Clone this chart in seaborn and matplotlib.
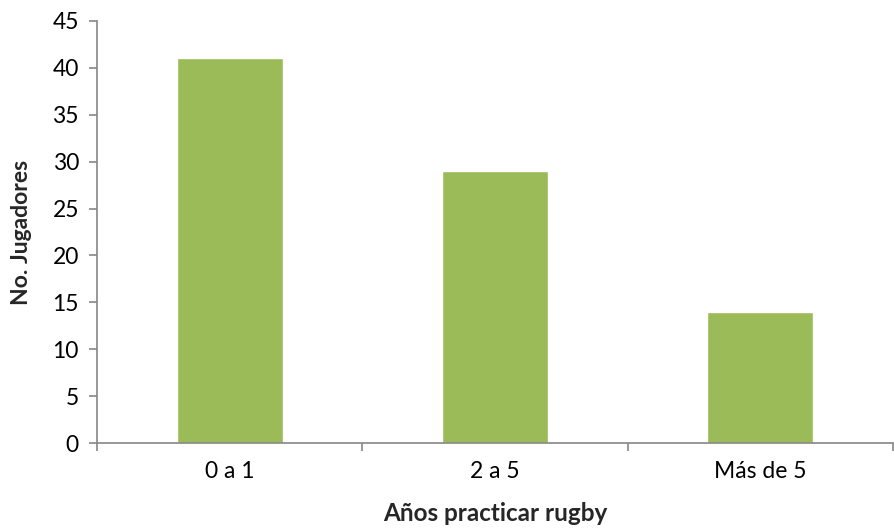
import matplotlib
matplotlib.use("Agg")
import matplotlib.pyplot as plt
from matplotlib.ticker import FixedLocator
import seaborn as sns
import pandas as pd

categories = ["0 a 1", "2 a 5", "Más de 5"]
jugadores = [41, 29, 14]
y_ticks = [0, 5, 10, 15, 20, 25, 30, 35, 40, 45]

df = pd.DataFrame({"categoria": categories, "jugadores": jugadores})

sns.set_theme(style="white")
plt.rcParams["font.family"] = ["Lato", "DejaVu Sans"]

axis_color = "#868686"
bar_color = "#9BBB59"

fig = plt.figure(figsize=(8.94, 5.31), dpi=100)
ax = fig.add_axes([0.1085, 0.1657, 0.8905, 0.7948])

sns.barplot(data=df, x="categoria", y="jugadores", color=bar_color,
            width=0.4, saturation=1, ax=ax)

ax.set_xlim(-0.5, 2.5)
ax.set_ylim(0, 45)
ax.set_yticks(y_ticks)

for side in ["top", "right"]:
    ax.spines[side].set_visible(False)
for side in ["left", "bottom"]:
    ax.spines[side].set_color(axis_color)
    ax.spines[side].set_linewidth(1.2)

ax.tick_params(axis="y", which="major", direction="out", length=6,
               width=1.2, color=axis_color, labelsize=16.5, pad=7,
               labelcolor="black", left=True)
ax.tick_params(axis="x", which="major", length=0, labelsize=16.5, pad=13,
               labelcolor="black")
ax.xaxis.set_minor_locator(FixedLocator([-0.5, 0.5, 1.5, 2.5]))
ax.tick_params(axis="x", which="minor", direction="out", length=6,
               width=1.2, color=axis_color, bottom=True)

ax.set_xlabel("Años practicar rugby", fontsize=17.5, fontweight="bold",
              labelpad=14)
ax.set_ylabel("No. Jugadores", fontsize=16.5, fontweight="bold", labelpad=15)

fig.savefig("out.png", dpi=100)
